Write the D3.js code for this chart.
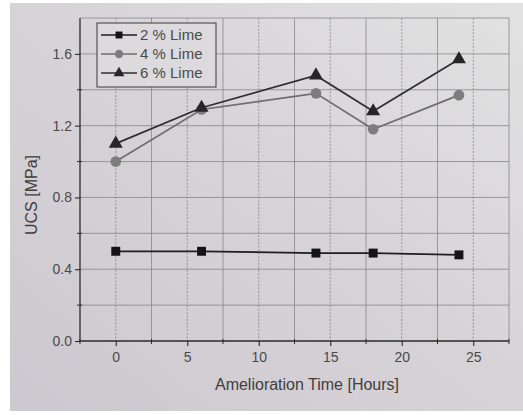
<!DOCTYPE html>
<html>
<head>
<meta charset="utf-8">
<script src="https://cdn.jsdelivr.net/npm/d3@7"></script>
<style>
  html, body { margin: 0; padding: 0; background: #fff; }
  svg { display: block; }
</style>
</head>
<body>
<svg id="chart" width="523" height="415"></svg>
<script>
// Amelioration time in hours
const hours = [0, 6, 14, 18, 24];
// UCS values in MPa per lime content
const lime2 = [0.50, 0.50, 0.49, 0.49, 0.48];
const lime4 = [1.00, 1.29, 1.38, 1.18, 1.37];
const lime6 = [1.10, 1.30, 1.48, 1.28, 1.57];
const seriesNames = ["2 % Lime", "4 % Lime", "6 % Lime"];
const xTicks = [0, 5, 10, 15, 20, 25];
const yTicks = [0.0, 0.4, 0.8, 1.2, 1.6];

const svg = d3.select("#chart");
const W = 523, H = 415;

// paper background
const defs = svg.append("defs");
const grad = defs.append("linearGradient").attr("id", "paper")
  .attr("x1", "0").attr("y1", "1").attr("x2", "1").attr("y2", "0");
grad.append("stop").attr("offset", "0").attr("stop-color", "#cdc8cf");
grad.append("stop").attr("offset", "0.55").attr("stop-color", "#d7d4d8");
grad.append("stop").attr("offset", "1").attr("stop-color", "#e2e2e2");
svg.append("rect").attr("x", 10).attr("y", 3).attr("width", W - 10).attr("height", H - 7)
  .attr("fill", "url(#paper)");

const plot = { left: 80, right: 509, top: 18, bottom: 341 };
const x = d3.scaleLinear().domain([-2.5, 27.5]).range([plot.left, plot.right]);
const y = d3.scaleLinear().domain([0, 1.8]).range([plot.bottom, plot.top]);

// grid
const grid = svg.append("g");
const xGrid = d3.range(0, 27.5 + 1e-9, 2.5);
grid.selectAll(".vg").data(xGrid).join("line")
  .attr("x1", d => x(d)).attr("x2", d => x(d))
  .attr("y1", plot.top).attr("y2", plot.bottom)
  .attr("stroke", "#858388").attr("stroke-width", 0.9)
  .attr("stroke-dasharray", d => d % 5 === 0 ? "2,1.5" : null)
  .attr("opacity", 0.85);
const yGrid = d3.range(0.2, 1.8 + 1e-9, 0.2);
grid.selectAll(".hg").data(yGrid).join("line")
  .attr("x1", plot.left).attr("x2", plot.right)
  .attr("y1", d => y(d)).attr("y2", d => y(d))
  .attr("stroke", "#858388").attr("stroke-width", 0.9)
  .attr("opacity", 0.85);

// axes
const font = "Liberation Sans, Arial, sans-serif";
const xAxis = svg.append("g").attr("transform", `translate(0,${plot.bottom})`)
  .call(d3.axisBottom(x).tickValues(xTicks).tickSize(5).tickPadding(6).tickFormat(d3.format("d")));
const yAxis = svg.append("g").attr("transform", `translate(${plot.left},0)`)
  .call(d3.axisLeft(y).tickValues(yTicks).tickSize(5).tickPadding(3).tickFormat(d3.format(".1f")));
[xAxis, yAxis].forEach(a => {
  a.select(".domain").attr("stroke", "#2a2a2a").attr("stroke-width", 1.3);
  a.selectAll(".tick line").attr("stroke", "#2a2a2a").attr("stroke-width", 1.1);
  a.selectAll("text").attr("fill", "#4a4a4a").style("font-family", font).style("font-size", "14px");
});
xAxis.select(".domain").attr("d", `M${plot.left},0H${plot.right}`);
yAxis.select(".domain").attr("d", `M0,${plot.top}V${plot.bottom}`);

// minor ticks
svg.append("g").selectAll("line").data(d3.range(-2.5, 27.5 + 1e-9, 5)).join("line")
  .attr("x1", d => x(d)).attr("x2", d => x(d))
  .attr("y1", plot.bottom - 2).attr("y2", plot.bottom + 3)
  .attr("stroke", "#2a2a2a").attr("stroke-width", 1);
svg.append("g").selectAll("line").data([0.2, 0.6, 1.0, 1.4]).join("line")
  .attr("x1", plot.left - 3).attr("x2", plot.left + 2)
  .attr("y1", d => y(d)).attr("y2", d => y(d))
  .attr("stroke", "#2a2a2a").attr("stroke-width", 1);

// axis titles
svg.append("text").attr("x", 307).attr("y", 390)
  .attr("text-anchor", "middle").attr("fill", "#3e3e3e")
  .style("font-family", font).style("font-size", "16px")
  .text("Amelioration Time [Hours]");
svg.append("text").attr("transform", `translate(37,195) rotate(-90)`)
  .attr("text-anchor", "middle").attr("fill", "#3e3e3e")
  .style("font-family", font).style("font-size", "16px")
  .text("UCS [MPa]");

// series
const series = [
  { name: seriesNames[0], values: lime2, line: "#1e1e1e", fill: "#141414", shape: d3.symbolSquare, size: 80 },
  { name: seriesNames[1], values: lime4, line: "#6e6e6e", fill: "#7d7d7d", shape: d3.symbolCircle, size: 90 },
  { name: seriesNames[2], values: lime6, line: "#2e2e2e", fill: "#262626", shape: d3.symbolTriangle, size: 85 }
];
const line = d3.line().x(d => x(d[0])).y(d => y(d[1]));
series.forEach(s => {
  const pts = hours.map((h, i) => [h, s.values[i]]);
  svg.append("path").datum(pts).attr("d", line)
    .attr("fill", "none").attr("stroke", s.line).attr("stroke-width", 1.7);
  svg.append("g").selectAll("path").data(pts).join("path")
    .attr("transform", d => `translate(${x(d[0])},${y(d[1])})`)
    .attr("d", d3.symbol().type(s.shape).size(s.size))
    .attr("fill", s.fill);
});

// legend
const lg = svg.append("g").attr("transform", "translate(97,23)");
lg.append("rect").attr("width", 119).attr("height", 64)
  .attr("fill", "#dcdadc").attr("stroke", "#3a3a3a").attr("stroke-width", 1);
series.forEach((s, i) => {
  const gy = 12 + i * 19;
  lg.append("line").attr("x1", 4).attr("x2", 40).attr("y1", gy).attr("y2", gy)
    .attr("stroke", s.line).attr("stroke-width", 1.6);
  lg.append("path").attr("transform", `translate(22,${gy})`)
    .attr("d", d3.symbol().type(s.shape).size(s.size * 0.6)).attr("fill", s.fill);
  lg.append("text").attr("x", 43).attr("y", gy + 5).attr("fill", "#4a4a4a")
    .style("font-family", font).style("font-size", "15px").text(s.name);
});
</script>
</body>
</html>
